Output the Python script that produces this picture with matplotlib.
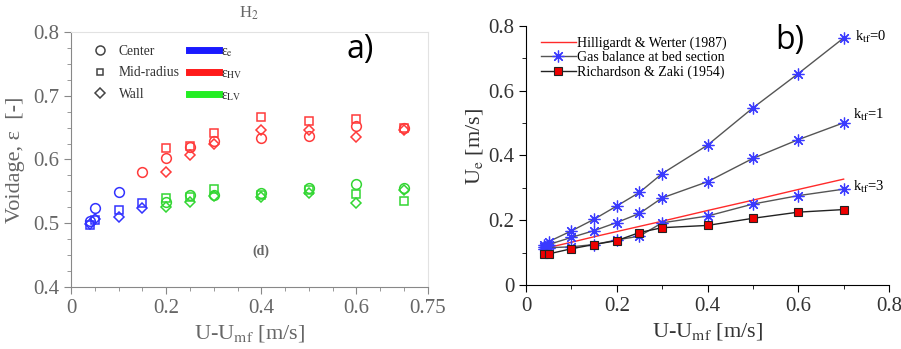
import matplotlib
matplotlib.use("Agg")
import matplotlib.pyplot as plt
from matplotlib.lines import Line2D
from matplotlib.ticker import MultipleLocator

plt.rcParams.update({
    "font.family": ["Liberation Serif", "DejaVu Serif"],
    "mathtext.fontset": "stix",
    "font.size": 12,
})

# ---- panel a) voidage data ----
x_e_c = [0.04, 0.05, 0.10]
e_c = [0.503, 0.524, 0.549]
x_e_m = [0.04, 0.05, 0.10, 0.15]
e_m = [0.497, 0.505, 0.521, 0.531]
x_e_w = [0.04, 0.05, 0.10, 0.15]
e_w = [0.499, 0.507, 0.510, 0.524]

x_hv_c = [0.15, 0.20, 0.25, 0.30, 0.40, 0.50, 0.60, 0.70]
hv_c = [0.580, 0.603, 0.620, 0.629, 0.633, 0.637, 0.653, 0.650]
x_hv = [0.20, 0.25, 0.30, 0.40, 0.50, 0.60, 0.70]
hv_m = [0.618, 0.621, 0.642, 0.667, 0.661, 0.663, 0.649]
hv_w = [0.580, 0.607, 0.625, 0.647, 0.647, 0.636, 0.647]

x_lv = [0.20, 0.25, 0.30, 0.40, 0.50, 0.60, 0.70]
lv_c = [0.534, 0.545, 0.545, 0.548, 0.556, 0.561, 0.555]
lv_m = [0.539, 0.541, 0.554, 0.544, 0.552, 0.546, 0.535]
lv_w = [0.525, 0.533, 0.542, 0.541, 0.547, 0.532, 0.552]

# ---- panel b) emulsion velocity data ----
x_b = [0.04, 0.05, 0.10, 0.15, 0.20, 0.25, 0.30, 0.40, 0.50, 0.60, 0.70]
ue_k0 = [0.123, 0.134, 0.167, 0.203, 0.244, 0.286, 0.344, 0.432, 0.547, 0.653, 0.763]
ue_k1 = [0.118, 0.125, 0.147, 0.168, 0.193, 0.221, 0.269, 0.319, 0.391, 0.449, 0.501]
ue_k3 = [0.110, 0.115, 0.118, 0.125, 0.139, 0.151, 0.192, 0.213, 0.250, 0.276, 0.296]
ue_rz = [0.096, 0.096, 0.112, 0.125, 0.137, 0.162, 0.177, 0.184, 0.206, 0.225, 0.233]
ue_hw = [0.113, 0.116, 0.132, 0.149, 0.165, 0.181, 0.197, 0.230, 0.262, 0.295, 0.327]

BLUE = "#3333ff"
RED = "#ff3b3b"
GREEN = "#33d633"

fig = plt.figure(figsize=(9.01, 3.49), dpi=100)

# ================= a) =================
ax = fig.add_axes([0.0788, 0.1777, 0.396, 0.7306])
mk = dict(fillstyle="none", linestyle="none", markersize=7, markeredgewidth=1.1)
ax.plot(x_e_c, e_c, "o", color=BLUE, **mk)
ax.plot(x_e_m, e_m, "s", color=BLUE, **dict(mk, markersize=6))
ax.plot(x_e_w, e_w, "D", color=BLUE, **dict(mk, markersize=5.5))
ax.plot(x_hv_c, hv_c, "o", color=RED, **mk)
ax.plot(x_hv, hv_m, "s", color=RED, **dict(mk, markersize=6))
ax.plot(x_hv, hv_w, "D", color=RED, **dict(mk, markersize=5.5))
ax.plot(x_lv, lv_c, "o", color=GREEN, **mk)
ax.plot(x_lv, lv_m, "s", color=GREEN, **dict(mk, markersize=6))
ax.plot(x_lv, lv_w, "D", color=GREEN, **dict(mk, markersize=5.5))

ax.set_xlim(0, 0.75)
ax.set_ylim(0.4, 0.8)
ax.set_xticks([0, 0.2, 0.4, 0.6, 0.75])
ax.set_xticklabels(["0", "0.2", "0.4", "0.6", "0.75"])
ax.set_yticks([0.4, 0.5, 0.6, 0.7, 0.8])
ax.xaxis.set_minor_locator(MultipleLocator(0.05))
ax.yaxis.set_minor_locator(MultipleLocator(0.025))
grey = "#666666"
for s in ["left", "bottom"]:
    ax.spines[s].set_color("#888888")
for s in ["top", "right"]:
    ax.spines[s].set_color("#e2e2e2")
ax.tick_params(which="both", direction="out", colors="#888888", labelcolor=grey,
               labelsize=15, top=False, right=False)
ax.tick_params(which="major", length=5)
ax.tick_params(which="minor", length=3)
ax.set_xlabel("U-U$_{\\rm mf}$ [m/s]", fontsize=16, color=grey, labelpad=4)
ax.set_ylabel("Voidage, ε  [-]", fontsize=16, color=grey, labelpad=6)

ax.text(0.375, 0.815, "H$_2$", fontsize=12, color=grey, ha="center", va="bottom")
ax.text(0.4, 0.456, "(d)", fontsize=10, color=grey, ha="center", va="center", fontweight="bold")
ax.text(0.607, 0.772, "a)", fontsize=23, family=["Open Sans", "DejaVu Sans"],
        ha="center", va="center", color="black")

# legend a (two columns)
h1 = [Line2D([], [], marker=m, color="#444444", fillstyle="none", linestyle="none",
             markersize=s, markeredgewidth=1.1)
      for m, s in (("o", 6.5), ("s", 5), ("D", 5))]
leg1 = ax.legend(h1, ["Center", "Mid-radius", "Wall"], loc="upper left",
                 bbox_to_anchor=(0.059, 0.948), frameon=False, fontsize=9.8,
                 handlelength=1.2, labelspacing=0.6, handletextpad=0.75,
                 borderpad=0, borderaxespad=0, labelcolor="#333333")
ax.add_artist(leg1)
h2 = [Line2D([], [], color=c, lw=5) for c in ("#1a1aff", "#ff1a1a", "#22ee22")]
ax.legend(h2, ["ε$_{\\rm e}$", "ε$_{\\rm HV}$", "ε$_{\\rm LV}$"], loc="upper left",
          bbox_to_anchor=(0.332, 0.948), frameon=False, fontsize=9.8,
          handlelength=2.15, labelspacing=0.6, handletextpad=0.14,
          borderpad=0, borderaxespad=0, labelcolor="#333333")

# ================= b) =================
bx = fig.add_axes([0.5838, 0.1834, 0.4029, 0.7421])
star = dict(marker=(8, 2, 0), markersize=8.5, markeredgecolor="#3a3aff",
            markeredgewidth=0.9, color="#555555", lw=1.0)
bx.plot(x_b, ue_hw, color="#ff2a2a", lw=1.0, label="Hilligardt & Werter (1987)")
bx.plot(x_b, ue_k0, label="Gas balance at bed section", **star)
bx.plot(x_b, ue_k1, **star)
bx.plot(x_b, ue_k3, **star)
bx.plot(x_b, ue_rz, color="#222222", lw=1.0, marker="s", markersize=6,
        markerfacecolor="#ee0000", markeredgecolor="#222222", markeredgewidth=0.8,
        label="Richardson & Zaki (1954)")

bx.set_xlim(0, 0.8)
bx.set_ylim(0, 0.8)
bx.set_xticks([0, 0.2, 0.4, 0.6, 0.8])
bx.set_xticklabels(["0", "0.2", "0.4", "0.6", "0.8"])
bx.set_yticks([0, 0.2, 0.4, 0.6, 0.8])
bx.set_yticklabels(["0", "0.2", "0.4", "0.6", "0.8"])
bx.xaxis.set_minor_locator(MultipleLocator(0.1))
bx.yaxis.set_minor_locator(MultipleLocator(0.1))
for s in ["top", "right"]:
    bx.spines[s].set_visible(False)
bx.tick_params(which="both", direction="out", labelsize=15, labelcolor="#333333")
bx.tick_params(which="major", length=5)
bx.tick_params(which="minor", length=3)
bx.set_xlabel("U-U$_{\\rm mf}$ [m/s]", fontsize=16, color="#333333", labelpad=4)
bx.set_ylabel("U$_{\\rm e}$ [m/s]", fontsize=16, color="#333333")
bx.yaxis.set_label_coords(-0.112, 0.535)

bx.text(0.725, 0.765, "k$_{\\rm tf}$=0", fontsize=10.5, va="center")
bx.text(0.72, 0.525, "k$_{\\rm tf}$=1", fontsize=10.5, va="center")
bx.text(0.72, 0.302, "k$_{\\rm tf}$=3", fontsize=10.5, va="center")
bx.text(0.582, 0.756, "b)", fontsize=23, family=["Open Sans", "DejaVu Sans"],
        ha="center", va="center")

bx.legend(loc="upper left", bbox_to_anchor=(0.041, 0.961), frameon=False, fontsize=10,
          handlelength=2.5, labelspacing=0.1, handletextpad=0.1,
          borderpad=0, borderaxespad=0)

fig.savefig("out.png", dpi=100)
